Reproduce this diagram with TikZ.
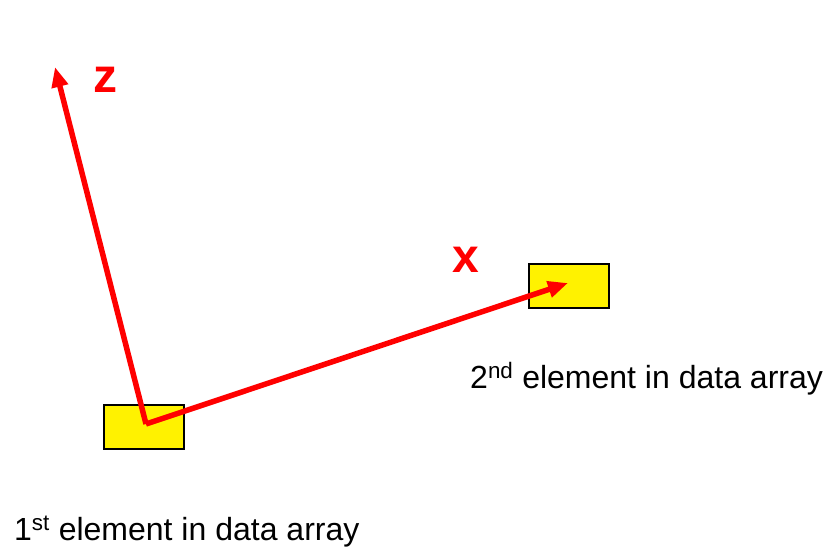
\documentclass[tikz,border=0pt]{standalone}
\usepackage{fontspec}
\setmainfont{Liberation Sans}
\usetikzlibrary{arrows.meta, positioning}

\begin{document}
\begin{tikzpicture}[
    x=1pt, y=-1pt,
    elem/.style={
      rectangle, draw=black, line width=2pt, fill=yellow,
      minimum width=80pt, minimum height=44pt, inner sep=0pt
    },
    axis/.style={-{Triangle[length=20pt, width=16pt]}, red, line width=5.5pt},
    axlabel/.style={text=red, font=\fontsize{48}{52}\selectfont\bfseries},
    caption/.style={font=\fontsize{32}{36}\selectfont, anchor=base west, inner sep=0pt}
  ]
  \useasboundingbox (0,0) rectangle (826,550);

  % Data elements
  \node[elem] (first)  at (143.5,426.5) {};
  \node[elem] (second) at (568.5,285.5) {};

  % Axes from the first element
  \coordinate (orig) at (146,424);
  \coordinate (ztip) at (55,67);
  \coordinate (xtip) at (568,283);
  \draw[axis] (orig) -- (ztip);
  \draw[axis] (orig) -- (xtip);

  \node[axlabel] (zlab) at (105,80) {z};
  \node[axlabel] (xlab) at (466,260) {x};

  % Captions
  \node[caption] (cap2) at (470,388) {2\textsuperscript{nd} element in data array};
  \node[caption] (cap1) at (14,540) {1\textsuperscript{st} element in data array};
\end{tikzpicture}
\end{document}
